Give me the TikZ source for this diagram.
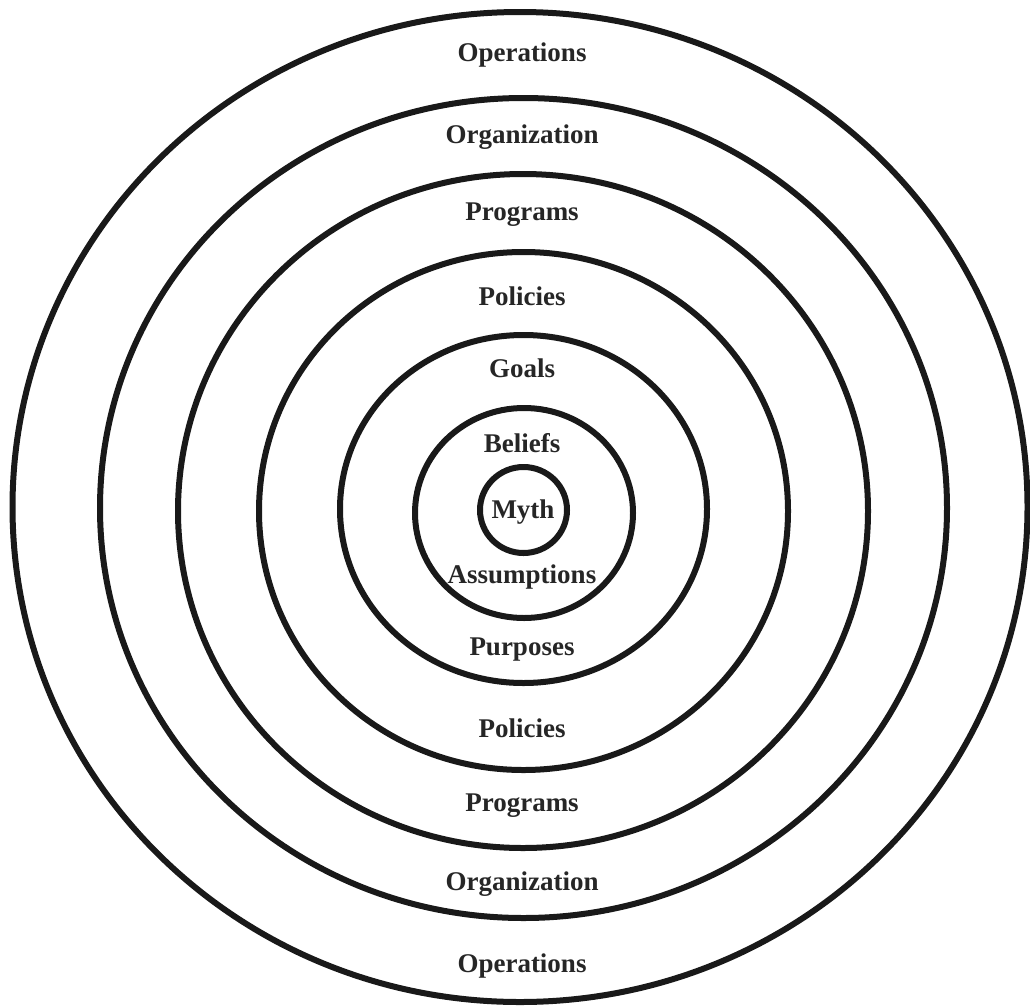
\documentclass[tikz,border=0pt]{standalone}
\usepackage{fontspec}
\setmainfont{Liberation Serif}
\begin{document}
\begin{tikzpicture}[x=1pt,y=-1pt,
  ring/.style={draw=black!90,line width=6pt},
  lbl/.style={font=\bfseries\fontsize{27}{31}\selectfont,text=black!85,inner sep=0pt,anchor=center}]
\useasboundingbox[fill=white] (0,0) rectangle (1030,1007);
% rings
\draw[ring] (520,507) ellipse [x radius=507.5,y radius=495];
\draw[ring] (523.5,508) ellipse [x radius=423.5,y radius=410];
\draw[ring] (523,511) ellipse [x radius=345,y radius=337];
\draw[ring] (523.5,511) ellipse [x radius=264.5,y radius=259];
\draw[ring] (523.5,509) ellipse [x radius=183.5,y radius=174];
\draw[ring] (524,513) ellipse [x radius=109,y radius=105];
\draw[ring] (523.5,510) ellipse [x radius=43.5,y radius=43];
% labels
\node[lbl] (op1) at (522,55) {Operations};
\node[lbl] (or1) at (522,137) {Organization};
\node[lbl] (pr1) at (522,215) {Programs};
\node[lbl] (po1) at (522,296) {Policies};
\node[lbl] (go) at (522,368) {Goals};
\node[lbl] (be) at (522,443) {Beliefs};
\node[lbl] (my) at (523,512) {Myth};
\node[lbl] (as) at (522,577) {Assumptions};
\node[lbl] (pu) at (522,650) {Purposes};
\node[lbl] (po2) at (522,728) {Policies};
\node[lbl] (pr2) at (522,806) {Programs};
\node[lbl] (or2) at (522,884) {Organization};
\node[lbl] (op2) at (522,966) {Operations};
\end{tikzpicture}
\end{document}
